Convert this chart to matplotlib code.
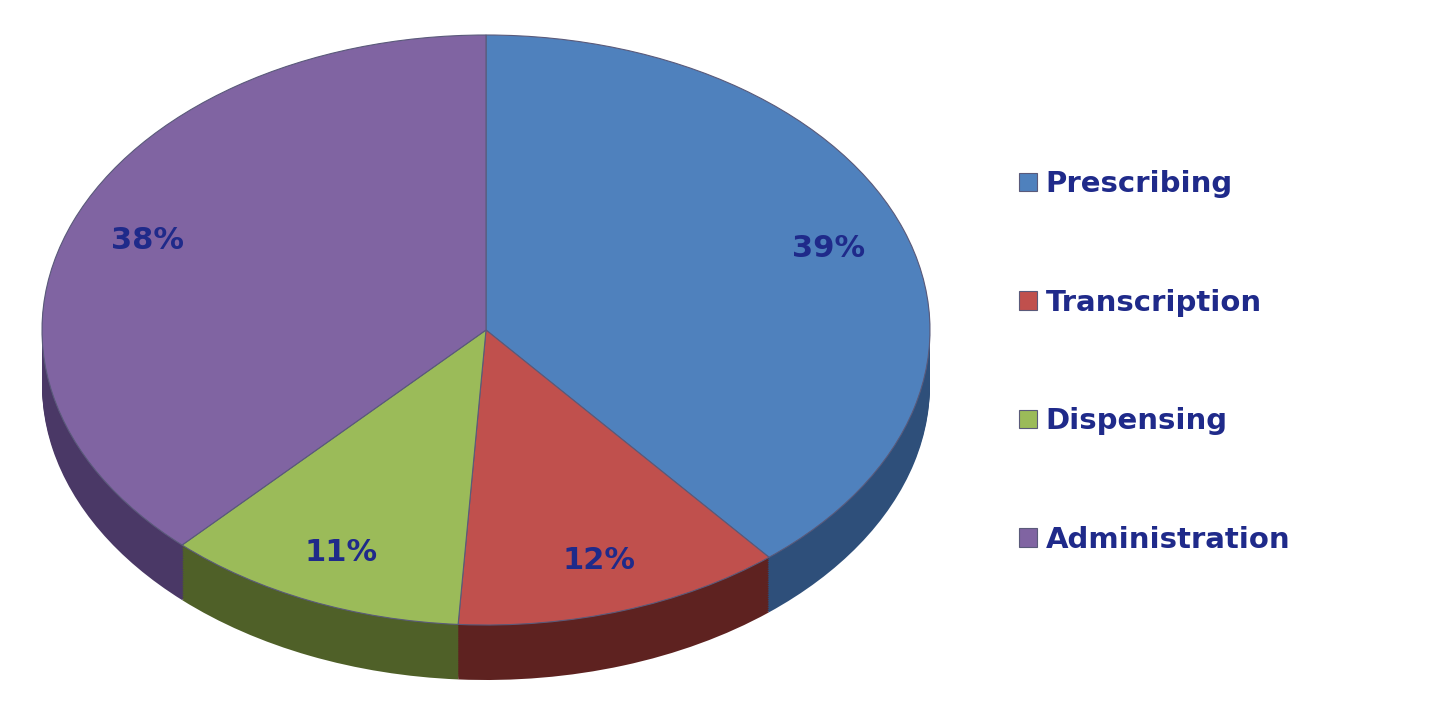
import matplotlib
matplotlib.use("Agg")
import matplotlib.pyplot as plt
import numpy as np

labels = ["Prescribing", "Transcription", "Dispensing", "Administration"]
values = [39, 12, 11, 38]
colors = ["#4F81BD", "#C0504D", "#9BBB59", "#8064A2"]
side_colors = ["#2E4F7A", "#5E2220", "#4F6028", "#4A3866"]
navy = "#1F2A8A"

fig = plt.figure(figsize=(14.4, 7.15), dpi=100)
W, H = 1440, 715
ax = fig.add_axes([42 / W, 1 - 680 / H, 888 / W, 645 / H])
d = 55 / 295

for k in np.linspace(d, 0.005, 30):
    ax.pie(values, colors=side_colors, startangle=90, counterclock=False,
           center=(0, -k), wedgeprops=dict(linewidth=0), frame=True)

wedges, texts, autotexts = ax.pie(
    values, colors=colors, startangle=90, counterclock=False, center=(0, 0),
    autopct="%d%%", pctdistance=0.82, frame=True,
    wedgeprops=dict(linewidth=0.8, edgecolor="#5A5A7A"),
    textprops=dict(color=navy, fontsize=22, fontweight="bold"))
ax.set_aspect("auto")
ax.set_xlim(-1, 1)
ax.set_ylim(-1 - d, 1)
ax.axis("off")

fig.legend(wedges, labels, loc="center left", bbox_to_anchor=(993 / W, 1 - 362 / H),
           frameon=False, handlelength=0.6, handleheight=0.6, handletextpad=0.3,
           labelspacing=3.1, labelcolor=navy,
           prop=dict(size=21, weight="bold"))

fig.savefig("out.png", dpi=100)
